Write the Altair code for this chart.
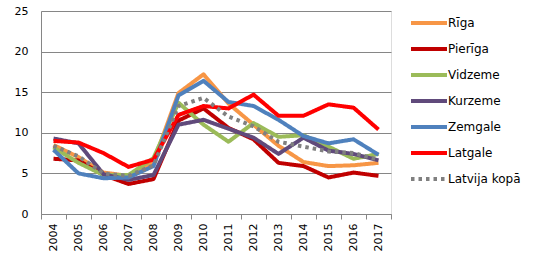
import altair as alt
import pandas as pd

years = [str(y) for y in range(2004, 2018)]
series = ["Rīga", "Pierīga", "Vidzeme", "Kurzeme", "Zemgale", "Latgale", "Latvija kopā"]
colors = ["#F79646", "#C00000", "#9BBB59", "#604A7B", "#4F81BD", "#FF0000", "#808080"]

riga = [8.5, 7.0, 5.1, 4.7, 6.4, 14.9, 17.2, 13.6, 11.0, 8.4, 6.4, 5.9, 6.0, 6.3]
pieriga = [6.8, 6.6, 4.8, 3.7, 4.3, 11.5, 13.0, 10.6, 9.2, 6.3, 5.9, 4.5, 5.1, 4.7]
vidzeme = [8.2, 6.3, 4.8, 4.8, 6.9, 13.7, 11.0, 8.9, 11.2, 9.5, 9.7, 8.3, 6.8, 7.4]
kurzeme = [9.3, 8.7, 4.9, 4.2, 4.8, 11.0, 11.6, 10.5, 9.4, 7.4, 9.4, 7.8, 7.4, 6.6]
zemgale = [7.9, 5.0, 4.4, 4.5, 5.9, 14.6, 16.4, 13.8, 13.3, 11.6, 9.6, 8.7, 9.2, 7.3]
latgale = [9.0, 8.8, 7.5, 5.8, 6.7, 12.2, 13.3, 13.0, 14.7, 12.1, 12.1, 13.5, 13.1, 10.4]
latvija = [8.4, 7.1, 5.0, 4.7, 6.0, 13.3, 14.3, 12.0, 10.8, 8.9, 8.3, 7.7, 7.5, 6.7]

values = [riga, pieriga, vidzeme, kurzeme, zemgale, latgale, latvija]
rows = []
for i, (name, vals) in enumerate(zip(series, values)):
    for y, v in zip(years, vals):
        rows.append({"year": y, "value": v, "series": name, "order": i})
df = pd.DataFrame(rows)

FONT = "DejaVu Sans"

legend_opts = dict(
    title=None,
    orient="none",
    legendX=380,
    legendY=4,
    symbolType="M-3,0H3",
    symbolSize=144,
    symbolStrokeWidth=4,
    labelFont=FONT,
    labelFontSize=12,
    labelColor="#000000",
    labelOffset=11,
    rowPadding=10,
)

color = alt.Color(
    "series:N",
    scale=alt.Scale(domain=series, range=colors),
    sort=series,
    legend=alt.Legend(**legend_opts),
)
dash = alt.StrokeDash(
    "series:N",
    scale=alt.Scale(domain=series, range=[[1, 0]] * 6 + [[3.5, 4]]),
    sort=series,
    legend=alt.Legend(**legend_opts),
)

lines = alt.Chart(df).mark_line(strokeWidth=4, strokeCap="butt", strokeJoin="round").encode(
    x=alt.X(
        "year:O",
        bandPosition=0.5,
        scale=alt.Scale(type="band", paddingInner=0, paddingOuter=0),
        axis=alt.Axis(
            title=None,
            labelAngle=-90,
            labelFont=FONT,
            labelFontSize=11,
            labelColor="#000000",
            tickBand="extent",
            tickColor="#868686",
            tickSize=5,
            domainColor="#868686",
            labelPadding=4,
            grid=False,
        ),
    ),
    y=alt.Y(
        "value:Q",
        scale=alt.Scale(domain=[0, 25], nice=False),
        axis=alt.Axis(
            title=None,
            values=[0, 5, 10, 15, 20, 25],
            labelFont=FONT,
            labelFontSize=11,
            labelColor="#000000",
            ticks=False,
            labelPadding=13,
            domainColor="#868686",
            gridColor="#868686",
            gridWidth=1,
        ),
    ),
    color=color,
    strokeDash=dash,
    order=alt.Order("order:Q"),
    detail="series:N",
)

chart = lines.properties(
    width=350,
    height=203,
    autosize=alt.AutoSizeParams(type="none"),
    padding={"left": 41, "top": 11, "right": 151, "bottom": 45},
).configure_view(stroke=None).configure(background="white")

chart.save("out.html", embed_options={"renderer": "svg", "actions": False})
